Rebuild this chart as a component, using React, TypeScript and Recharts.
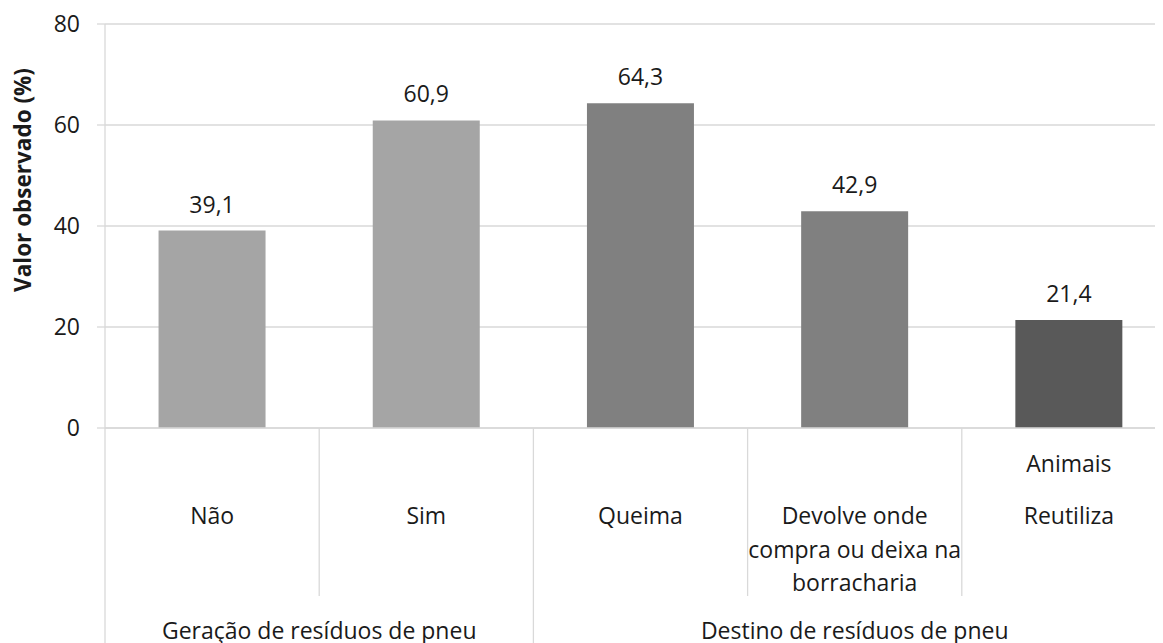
import React from 'react';
import { BarChart, Bar, XAxis, YAxis, CartesianGrid, Cell, LabelList } from 'recharts';

const categories = ['Não', 'Sim', 'Queima', 'Devolve onde compra ou deixa na borracharia', 'Reutiliza'];
const values = [39.1, 60.9, 64.3, 42.9, 21.4];
const labelLines: string[][] = [['Não'], ['Sim'], ['Queima'], ['Devolve onde', 'compra ou deixa na', 'borracharia'], ['Reutiliza']];
const labelNotes = ['', '', '', '', 'Animais'];
const groups = [
  { name: 'Geração de resíduos de pneu', start: 0, count: 2 },
  { name: 'Destino de resíduos de pneu', start: 2, count: 3 },
];
const barColors = ['#a5a5a5', '#a5a5a5', '#808080', '#808080', '#595959'];
const yTicks = [0, 20, 40, 60, 80];
const yLabel = 'Valor observado (%)';

const data = categories.map((name, i) => ({ name, value: values[i] }));

const FONT = '"Open Sans", sans-serif';
const FS = 23;
const LINE = '#d9d9d9';
const TEXT = '#1a1a1a';
const PLOT_W = 1071;
const BAND = PLOT_W / categories.length;

const CategoryTick = (props: any) => {
  const { x, y, payload, index } = props;
  const i = typeof index === 'number' ? index : categories.indexOf(payload.value);
  const half = payload && typeof payload.offset === 'number' && payload.offset > 0 ? payload.offset : BAND / 2;
  const lines = labelLines[i] || [];
  const note = labelNotes[i];
  const isGroupEnd = groups.some((g) => g.start + g.count - 1 === i);
  const group = groups.find((g) => g.start === i);
  return (
    <g>
      {i === 0 && <line x1={x - half} x2={x - half} y1={y} y2={y + 215} stroke={LINE} strokeWidth={1.3} />}
      <line x1={x + half} x2={x + half} y1={y} y2={y + (isGroupEnd ? 215 : 168)} stroke={LINE} strokeWidth={1.3} />
      {note && (
        <text x={x} y={y + 35} textAnchor="middle" dominantBaseline="central" fontSize={FS} fill={TEXT} fontFamily={FONT}>
          {note}
        </text>
      )}
      {lines.map((l, k) => (
        <text key={k} x={x} y={y + 87 + k * 33.5} textAnchor="middle" dominantBaseline="central" fontSize={FS} fill={TEXT} fontFamily={FONT}>
          {l}
        </text>
      ))}
      {group && (
        <text x={x - half + half * group.count} y={y + 202} textAnchor="middle" dominantBaseline="central" fontSize={FS} fill={TEXT} fontFamily={FONT}>
          {group.name}
        </text>
      )}
    </g>
  );
};

const YLabel = (props: any) => {
  const vb = props.viewBox || { x: 0, y: 0, width: 0, height: 0 };
  const cx = vb.x + 14;
  const cy = vb.y + vb.height / 2 - 46;
  return (
    <text x={cx} y={cy} transform={`rotate(-90 ${cx} ${cy})`} textAnchor="middle" dominantBaseline="central" fontSize={22.5} fontWeight="bold" fill={TEXT} fontFamily={FONT}>
      {yLabel}
    </text>
  );
};

const fmt = (v: any) => Number(v).toFixed(1).replace('.', ',');

export default function App() {
  return (
    <div style={{ width: 1155, height: 635, overflow: 'hidden', fontFamily: FONT, background: '#fff' }}>
      <BarChart width={1180} height={635} data={data} margin={{ top: 16, right: 12, bottom: 0, left: 0 }} barCategoryGap="25%">
        <CartesianGrid vertical={false} stroke={LINE} strokeWidth={1.3} />
        <XAxis
          dataKey="name"
          height={215}
          interval={0}
          tickLine={false}
          tickSize={0}
          tickMargin={0}
          axisLine={{ stroke: LINE, strokeWidth: 1.3 }}
          tick={<CategoryTick />}
        />
        <YAxis
          width={97}
          domain={[0, 80]}
          ticks={yTicks}
          interval={0}
          tickSize={8}
          tickMargin={17}
          axisLine={{ stroke: LINE, strokeWidth: 1.3 }}
          tickLine={{ stroke: LINE, strokeWidth: 1.3 }}
          tick={{ fontSize: FS, fill: TEXT, fontFamily: FONT }}
          label={<YLabel />}
        />
        <Bar dataKey="value" isAnimationActive={false}>
          {data.map((d, i) => (
            <Cell key={d.name} fill={barColors[i]} />
          ))}
          <LabelList dataKey="value" position="top" offset={18} formatter={fmt} style={{ fontSize: FS, fill: TEXT, fontFamily: FONT }} />
        </Bar>
      </BarChart>
    </div>
  );
}
